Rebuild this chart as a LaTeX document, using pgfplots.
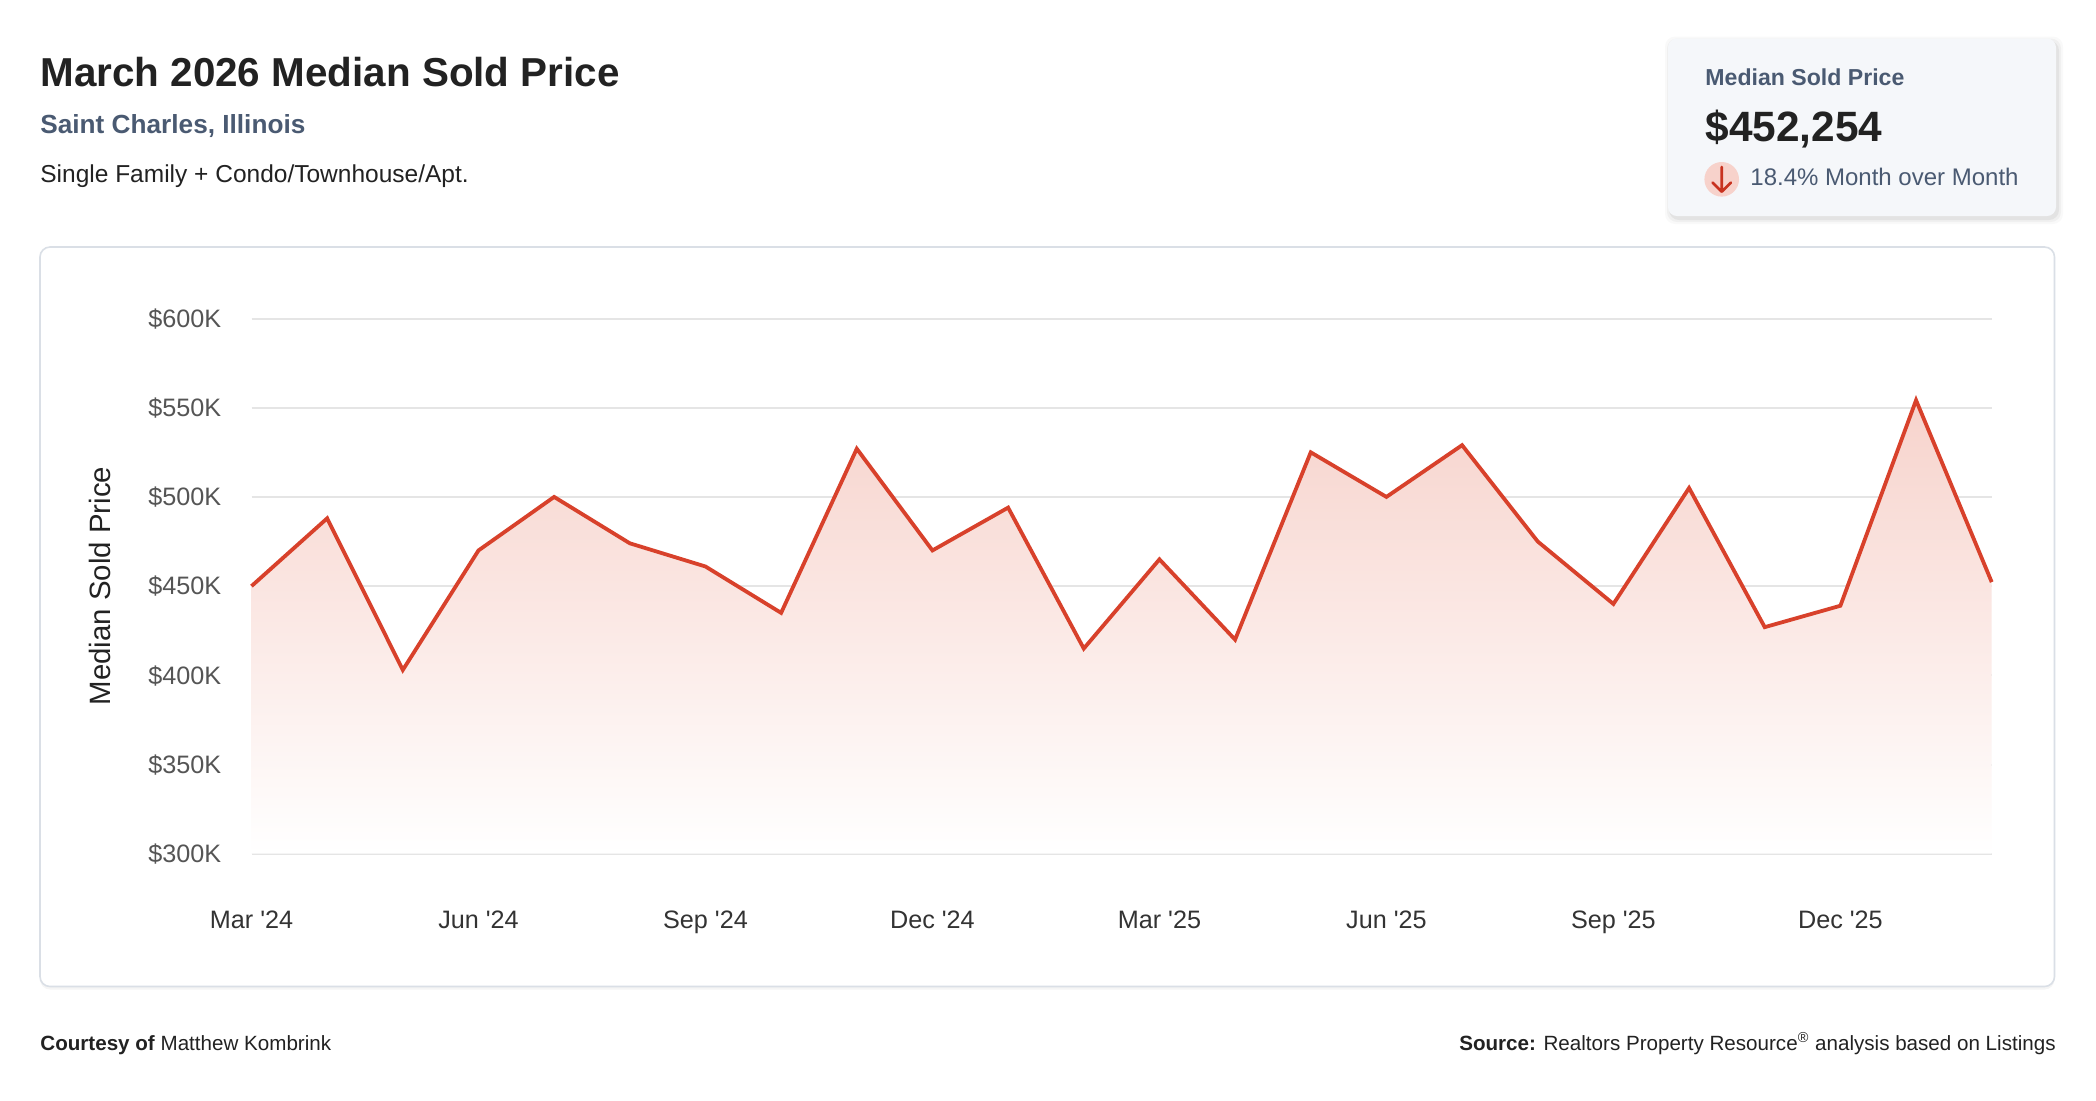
\documentclass[border=0pt]{standalone}
\usepackage{fontspec}
\setmainfont{Liberation Sans}
\usepackage{pgfplots}
\pgfplotsset{compat=1.18}

\definecolor{titlec}{HTML}{222222}
\definecolor{slate}{HTML}{4A5A72}
\definecolor{linered}{HTML}{D8412B}
\definecolor{filltop}{HTML}{F7D3CC}
\definecolor{gridc}{HTML}{E5E5E5}
\definecolor{ytickc}{HTML}{555555}
\definecolor{xtickc}{HTML}{333333}
\definecolor{cardbg}{HTML}{F5F7FA}
\definecolor{panelc}{HTML}{DADFE6}
\definecolor{circc}{HTML}{F7D2CB}
\definecolor{arrowc}{HTML}{C8321F}

\newcommand{\fs}[1]{\fontsize{#1}{#1}\selectfont}

\begin{document}
\begin{tikzpicture}
% page frame, 1 px = 0.5pt, y downwards
\begin{scope}[x=0.5pt,y=-0.5pt]
  \fill[white] (0,0) rectangle (2096,1100);
  \path[use as bounding box] (0,0) rectangle (2096,1100);

  % header
  \node[anchor=base west, inner sep=0, text=titlec, font=\bfseries\fs{20.2}] at (40,86) {March 2026 Median Sold Price};
  \node[anchor=base west, inner sep=0, text=slate, font=\bfseries\fs{13.1}] at (40,133.3) {Saint Charles, Illinois};
  \node[anchor=base west, inner sep=0, text=titlec, font=\fs{12.25}] at (40,182.7) {Single Family + Condo/Townhouse/Apt.};

  % summary card
  \foreach \o/\a in {6/0.025,4/0.035,2/0.05}
    \fill[black, opacity=\a, rounded corners=5pt] (1668-\o+3,38.5-\o+4) rectangle (2056+\o+1,216+\o+2);
  \fill[cardbg, rounded corners=4.5pt] (1668,38.5) rectangle (2056,216);
  \node[anchor=base west, inner sep=0, text=slate, font=\bfseries\fs{11.55}] at (1705,85.7) {Median Sold Price};
  \node[anchor=base west, inner sep=0, text=titlec, font=\bfseries\fs{21.2}] at (1705,141.7) {\$452,254};
  \fill[circc] (1721.7,179.3) circle[radius=8.65pt];
  \draw[arrowc, line width=1.3pt, line cap=round, line join=round]
    (1721.7,167) -- (1721.7,191.5) (1712.5,182.5) -- (1721.7,191.7) -- (1730.9,182.5);
  \node[anchor=base west, inner sep=0, text=slate, font=\fs{12}] at (1750,185.7) {18.4\% Month over Month};

  % chart panel
  \fill[black, opacity=0.04, rounded corners=5pt] (40,249) rectangle (2054.5,989.5);
  \draw[panelc, fill=white, line width=0.8pt, rounded corners=5pt] (40,247) rectangle (2054.5,986.5);

  % footer
  \node[anchor=base west, inner sep=0, text=titlec, font=\fs{10.3}] at (40,1050) {\textbf{Courtesy of} Matthew Kombrink};
  \node[anchor=base east, inner sep=0, text=titlec, font=\fs{10.3}] at (2056,1050) {\textbf{Source:} Realtors Property Resource\textsuperscript{\textregistered} analysis based on Listings};
\end{scope}

\begin{axis}[
    at={(125.75pt,-426.85pt)},
    anchor=south west,
    scale only axis,
    width=870.1pt,
    height=267.6pt,
    xmin=0, xmax=23,
    ymin=300000, ymax=600000,
    clip=false,
    axis line style={draw=none},
    major tick length=0pt,
    tick style={draw=none},
    ymajorgrids=true,
    grid style={gridc, line width=1pt},
    xtick={0,3,...,21},
    xticklabels={Mar \textquotesingle24, Jun \textquotesingle24, Sep \textquotesingle24, Dec \textquotesingle24, Mar \textquotesingle25, Jun \textquotesingle25, Sep \textquotesingle25, Dec \textquotesingle25},
    ytick={300000,350000,400000,450000,500000,550000,600000},
    yticklabels={\$300K,\$350K,\$400K,\$450K,\$500K,\$550K,\$600K},
    scaled y ticks=false,
    xticklabel style={anchor=base, inner sep=0pt, yshift=-37.3pt, text=xtickc, font=\fs{12.6}},
    yticklabel style={anchor=base east, inner sep=0pt, xshift=-14.9pt, yshift=-4.4pt, text=ytickc, font=\fs{12.6}},
    ylabel={Median Sold Price},
    ylabel style={at={(axis description cs:-0.0809,0.5)}, anchor=base, inner sep=0pt, text=titlec, font=\fs{14.7}},
]
% shaded area under the line, down to the axis floor
\addplot[draw=none, shading=axis, top color=filltop, bottom color=white, shading angle=0]
coordinates {
(0,450000)(1,488000)(2,403000)(3,470000)(4,500000)(5,474000)
(6,461000)(7,435000)(8,527000)(9,470000)(10,494000)(11,415000)
(12,465000)(13,420000)(14,525000)(15,500000)(16,529000)(17,475000)
(18,440000)(19,505000)(20,427000)(21,439000)(22,554200)(23,452254)
(23,300000)(0,300000)
} --cycle;
% median sold price line
\addplot[linered, line width=1.9pt, line join=miter, mark=none]
coordinates {
(0,450000)(1,488000)(2,403000)(3,470000)(4,500000)(5,474000)
(6,461000)(7,435000)(8,527000)(9,470000)(10,494000)(11,415000)
(12,465000)(13,420000)(14,525000)(15,500000)(16,529000)(17,475000)
(18,440000)(19,505000)(20,427000)(21,439000)(22,554200)(23,452254)
};
\end{axis}
\end{tikzpicture}
\end{document}
